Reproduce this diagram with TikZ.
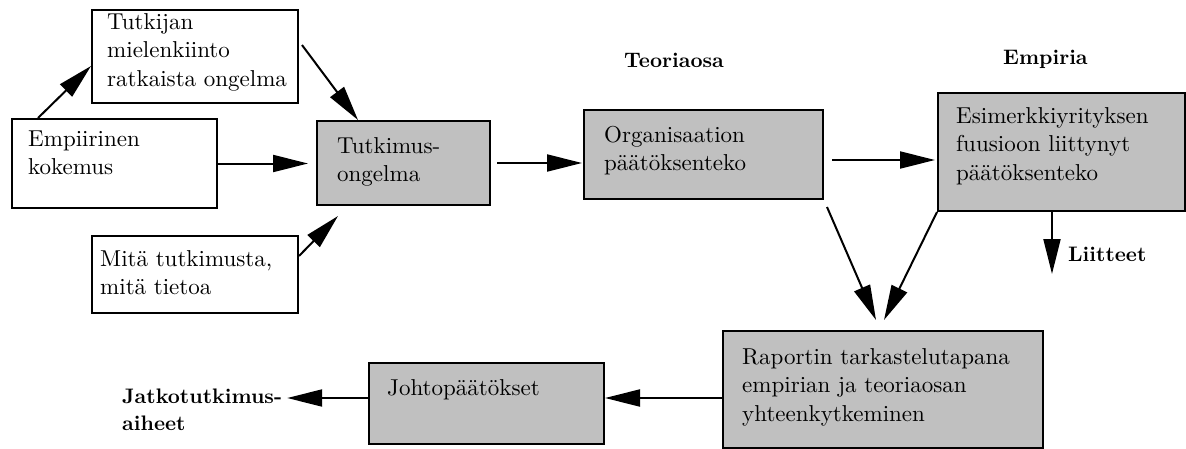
\documentclass[tikz,border=0pt]{standalone}
\usepackage{fontspec}
\setmainfont{Latin Modern Roman}[OpticalSize=10]
\usetikzlibrary{arrows.meta}
\definecolor{graybox}{RGB}{192,192,192}
\begin{document}
\begin{tikzpicture}[x=1pt,y=-1pt,
  boxwhite/.style={draw=black,line width=2pt,fill=white,rectangle,inner sep=0pt,anchor=north west},
  boxgray/.style={boxwhite,fill=graybox},
  txt/.style={anchor=north west,inner sep=0pt,align=left,font=\fontsize{23}{28.5}\selectfont},
  lbl/.style={inner sep=0pt,font=\fontsize{21}{27}\selectfont\bfseries},
  arr/.style={line width=2pt,-{Triangle[length=35pt,width=17pt]}},
]
\useasboundingbox (0,0) rectangle (1186,448);

% boxes
\node[boxwhite,minimum width=206pt,minimum height=93pt] (A) at (91,9) {};
\node[boxwhite,minimum width=205pt,minimum height=89pt] (B) at (11,118) {};
\node[boxwhite,minimum width=206pt,minimum height=77pt] (C) at (91,235) {};
\node[boxgray,minimum width=173pt,minimum height=84pt] (D) at (316,120) {};
\node[boxgray,minimum width=239pt,minimum height=89pt] (E) at (583,109) {};
\node[boxgray,minimum width=247pt,minimum height=118pt] (F) at (937,92) {};
\node[boxgray,minimum width=320pt,minimum height=117pt] (G) at (722,330) {};
\node[boxgray,minimum width=235pt,minimum height=81pt] (H) at (368,362) {};

% box texts (top = first baseline - strut height)
\node[txt] (tA) at (107,9) {\strut Tutkijan\\mielenkiinto\\ratkaista ongelma};
\node[txt] (tB) at (28,126) {\strut Empiirinen\\kokemus};
\node[txt] (tC) at (100,246) {\strut Mitä tutkimusta,\\mitä tietoa};
\node[txt] (tD) at (337,133) {\strut Tutkimus-\\ongelma};
\node[txt] (tE) at (604,122) {\strut Organisaation\\päätöksenteko};
\node[txt] (tF) at (956,103) {\strut Esimerkkiyrityksen\\fuusioon liittynyt\\päätöksenteko};
\node[txt] (tG) at (742,344) {\strut Raportin tarkastelutapana\\empirian ja teoriaosan\\yhteenkytkeminen};
\node[txt] (tH) at (387,375) {\strut Johtopäätökset};

% headings and free labels
\node[lbl,anchor=base] (teoria) at (674,67) {Teoriaosa};
\node[lbl,anchor=base west] (empiria) at (1003,64) {Empiria};
\node[lbl,anchor=base west] (liitteet) at (1068,261) {Liitteet};
\node[lbl,anchor=north west,align=left] (jatko) at (122,384) {\strut Jatkotutkimus-\\aiheet};

% connectors
\draw[arr] ([xshift=27pt]B.north west) -- ([yshift=-57pt]A.north west);
\draw[arr] ([xshift=3pt,yshift=-36pt]A.north east) -- ([xshift=42pt]D.north west);
\draw[arr,shorten >=8pt] (B.east) -- (B.east -| D.west);
\draw[arr] ([yshift=-21pt]C.north east) -- ([xshift=22pt,yshift=-10pt]D.south west);
\draw[arr,shorten <=6pt,shorten >=1pt] (D.east) -- (D.east -| E.west);
\coordinate (ef) at ([yshift=-5.5pt]E.east);
\draw[arr,shorten <=8pt,shorten >=2pt] (ef) -- (ef -| F.west);
\draw[arr] ([xshift=3pt,yshift=-7pt]E.south east) -- ([xshift=154pt,yshift=10pt]G.north west);
\draw[arr] (F.south west) -- ([xshift=162pt,yshift=10pt]G.north west);
\coordinate (fl) at ([xshift=115pt]F.south west);
\coordinate (lt) at ([xshift=115pt,yshift=-62pt]F.south west);
\draw[arr] (fl) -- (lt);
\coordinate (gh) at ([yshift=-8.5pt]G.west);
\draw[arr] (gh) -- (gh -| H.east);
\coordinate (hj) at ([yshift=5.5pt]H.west);
\coordinate (jt) at ([xshift=5pt]jatko.east);
\draw[arr] (hj) -- (hj -| jt);
\end{tikzpicture}
\end{document}
